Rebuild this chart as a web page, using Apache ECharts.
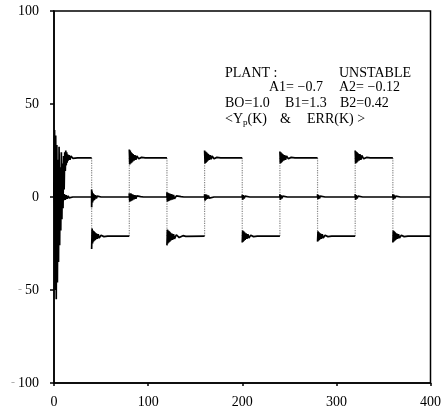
<!DOCTYPE html>
<html>
<head>
<meta charset="utf-8">
<script src="https://cdn.jsdelivr.net/npm/echarts@6/dist/echarts.min.js"></script>
<style>html,body{margin:0;padding:0;background:#fff}#c{width:444px;height:412px}</style>
</head>
<body>
<div id="c"></div>
<script>
// ---- data ----
const xTicks = [0, 100, 200, 300, 400];
const yTicks = [-100, -50, 0, 50, 100];

// output Y_p(K): transient + plateau segments (k, value)
const outputTransient = [[0,0],[0.6,36],[1.2,-50],[1.8,33],[2.4,-55],[3,28],[3.6,-46],[4.2,20],[4.8,-35],[5.4,27],[6,-26],[6.6,16],[7.2,-18],[7.8,24],[8.4,-12],[9,18],[9.6,-6],[10.2,22],[10.8,4],[11.4,24],[12,14],[12.5,25],[13,17],[13.5,24],[14,18.5],[14.5,23],[15,19.5],[16,22.5],[17,20],[18,22],[20,20.8],[22,21.3],[25,21],[40,21]];
const outputSeg40 = [[40,-28],[40.5,-17],[41,-25],[41.5,-18],[42,-24],[42.5,-18.5],[43,-23.5],[43.5,-19],[44,-23],[45,-19.5],[46,-22.5],[47,-20],[48,-22],[50,-20.6],[53,-21.3],[57,-21],[80,-21]];
const outputSeg80 = [[80,25.5],[80.5,17.5],[81,25],[81.5,18],[82,24],[82.5,18.5],[83,23.5],[83.5,19],[84,23],[85,19.5],[86,22.5],[87,20],[88,22],[90,20.6],[93,21.3],[97,21],[120,21]];
const outputSeg120 = [[120,-26],[120.5,-17.5],[121,-25],[121.5,-18],[122,-24.5],[122.5,-18.5],[123,-24],[123.5,-19],[124,-23.5],[125,-19.5],[126,-23],[127,-20],[128,-22.5],[130,-20.3],[133,-21.8],[137,-20.8],[140,-21.2],[160,-21]];
const outputSeg160 = [[160,25],[160.5,18],[161,24.5],[161.5,18.5],[162,24],[162.5,19],[163,23.5],[163.5,19.5],[164,23],[165,20],[166,22.5],[167,20.3],[168,22],[170,20.6],[173,21.3],[177,21],[200,21]];
const outputSeg200 = [[200,-24.5],[200.5,-18],[201,-24],[201.5,-18.5],[202,-23.5],[202.5,-19],[203,-23],[204,-19.5],[205,-22.5],[206,-20],[207,-22],[209,-20.6],[212,-21.3],[216,-21],[240,-21]];
const outputSeg240 = [[240,24.5],[240.5,18],[241,24],[241.5,18.5],[242,23.5],[242.5,19],[243,23],[244,19.5],[245,22.5],[246,20],[247,22],[249,20.6],[252,21.3],[256,21],[280,21]];
const outputSeg280 = [[280,-24],[280.5,-18.5],[281,-23.5],[281.5,-19],[282,-23],[283,-19.5],[284,-22.5],[285,-20],[286,-22],[288,-20.6],[291,-21.3],[295,-21],[320,-21]];
const outputSeg320 = [[320,25],[320.5,18],[321,24.5],[321.5,18.5],[322,24],[322.5,19],[323,23.5],[324,19.5],[325,23],[326,20],[327,22.3],[329,20.5],[332,21.3],[336,21],[360,21]];
const outputSeg360 = [[360,-24.5],[360.5,-18],[361,-24],[361.5,-18.5],[362,-23.5],[362.5,-19],[363,-23],[364,-19.5],[365,-22.5],[366,-20],[367,-22],[369,-20.6],[372,-21.3],[376,-21],[400,-21]];

// the jumps of the square wave (drawn faint in the original)
const jumpK = [40, 80, 120, 160, 200, 240, 280, 320, 360];
const jumpFrom = [21, -21, 21, -21, 21, -21, 21, -21, 21];
const jumpTo = [-21, 21, -21, 21, -21, 21, -21, 21, -21];

// error ERR(K)
const errorValues = [[0,0],[0.5,8],[1,-9],[1.5,7],[2,-8],[2.5,6],[3,-7],[3.5,5],[4,-6],[4.5,5],[5,-5],[5.5,4],[6,-4],[6.5,3.5],[7,-3.5],[7.5,3],[8,-3],[8.5,2.5],[9,-2.5],[9.5,2],[10,-2],[11,1.5],[12,-1.5],[13,1],[14,-1],[15,0.6],[16,-0.5],[18,0.2],[20,0],
 [40,0],[40,4],[40,-5.5],[40.5,3],[41,-3],[41.5,2],[42,-2],[42.5,1.5],[43,-1.5],[44,1],[45,-0.8],[46,0.5],[48,-0.3],[50,0],
 [80,0],[80,2],[80.5,-2.5],[81,2],[81.5,-2.2],[82,1.8],[82.5,-2],[83,1.5],[83.5,-1.7],[84,1.2],[85,-1.3],[86,1],[87,-0.9],[88,0.6],[90,-0.4],[92,0.2],[95,0],
 [120,0],[120,2.5],[120.5,-2.5],[121,2.2],[121.5,-2.3],[122,2],[122.5,-2],[123,1.8],[124,-1.7],[125,1.5],[126,-1.4],[127,1.1],[128,-1],[130,0.6],[132,-0.4],[135,0.2],[138,0],
 [160,0],[160,1.5],[160.5,-2],[161,1.5],[161.5,-1.5],[162,1.2],[163,-1],[164,0.8],[165,-0.6],[167,0.3],[170,0],
 [200,0],[200,1.2],[200.5,-1.5],[201,1],[202,-0.8],[203,0.5],[205,-0.3],[208,0],
 [240,0],[240,1.5],[240.5,-1.5],[241,1],[242,-0.8],[243,0.5],[245,-0.3],[248,0],
 [280,0],[280,1.5],[280.5,-1.2],[281,1],[282,-0.8],[283,0.5],[285,-0.3],[288,0],
 [320,0],[320,1.5],[320.5,-1.5],[321,1],[322,-0.8],[323,0.5],[325,-0.3],[328,0],
 [360,0],[360,1.5],[360.5,-1.5],[361,1.2],[362,-0.8],[363,0.5],[365,-0.3],[368,0],[400,0]];

// annotation text pieces
const annotationTexts = ['PLANT :', 'UNSTABLE', 'A1= \u22120.7', 'A2= \u22120.12', 'BO=1.0', 'B1=1.3', 'B2=0.42', '<Y{s|p}(K)', '&', 'ERR(K) >'];

// ---- build series ----
const outputSegments = [outputTransient, outputSeg40, outputSeg80, outputSeg120, outputSeg160, outputSeg200, outputSeg240, outputSeg280, outputSeg320, outputSeg360];
const outputData = [];
outputSegments.forEach(function (seg) {
  seg.forEach(function (p) { outputData.push(p); });
  outputData.push([seg[seg.length - 1][0], '-']);
});
const jumpData = [];
jumpK.forEach(function (k, i) {
  jumpData.push([k, jumpFrom[i]], [k, jumpTo[i]], [k, '-']);
});

const FONT = '"Liberation Serif", "DejaVu Serif", serif';
const textPos = [[225, 66], [339, 66], [269, 80], [339, 80], [225, 96], [285, 96], [340, 96], [225, 112], [280, 112], [307, 112]];
const graphics = annotationTexts.map(function (t, i) {
  return {type: 'text', left: textPos[i][0], top: textPos[i][1], style: {
    text: t, font: '14px ' + FONT, fill: '#000',
    rich: {s: {fontSize: 9, fontFamily: FONT, fill: '#000', padding: [7, 0, 0, 0]}}
  }};
});

const chart = echarts.init(document.getElementById('c'), null, {renderer: 'canvas'});
chart.setOption({
  animation: false,
  backgroundColor: '#fff',
  grid: {left: 54, right: 10, top: 11, bottom: 29, show: true, borderColor: '#000', borderWidth: 1.5, backgroundColor: 'transparent'},
  xAxis: {
    type: 'value', min: 0, max: 400, interval: 100,
    axisLine: {show: true, onZero: false, lineStyle: {color: '#000', width: 1.5}},
    axisTick: {show: true, length: 3, lineStyle: {color: '#000', width: 1.5}},
    axisLabel: {color: '#000', fontFamily: FONT, fontSize: 14, margin: 12,
      formatter: function (v) { return xTicks.indexOf(v) >= 0 ? String(v) : ''; }},
    splitLine: {show: false}
  },
  yAxis: {
    type: 'value', min: -100, max: 100, interval: 50,
    axisLine: {show: true, onZero: false, lineStyle: {color: '#000', width: 1.5}},
    axisTick: {show: true, length: 4, lineStyle: {color: '#000', width: 1.5}},
    axisLabel: {color: '#000', fontFamily: FONT, fontSize: 14, margin: 15,
      formatter: function (v) {
        if (yTicks.indexOf(v) < 0) return '';
        return v < 0 ? '{m|-}{n|' + Math.abs(v) + '}' : '{n|' + v + '}';
      },
      rich: {m: {color: '#aaa', fontFamily: FONT, fontSize: 12, padding: [0, 3, 0, 0]}, n: {color: '#000', fontFamily: FONT, fontSize: 14}}
    },
    splitLine: {show: false}
  },
  graphic: graphics,
  series: [
    {name: 'jumps', type: 'line', data: jumpData, showSymbol: false, connectNulls: false,
      lineStyle: {color: '#888', width: 1.2, type: 'dotted'}, silent: true, z: 1},
    {name: 'Y_p(K)', type: 'line', data: outputData, showSymbol: false, connectNulls: false,
      lineStyle: {color: '#000', width: 1.7}, silent: true, z: 2},
    {name: 'ERR(K)', type: 'line', data: errorValues, showSymbol: false,
      lineStyle: {color: '#000', width: 1.7}, silent: true, z: 3}
  ]
});
</script>
</body>
</html>
